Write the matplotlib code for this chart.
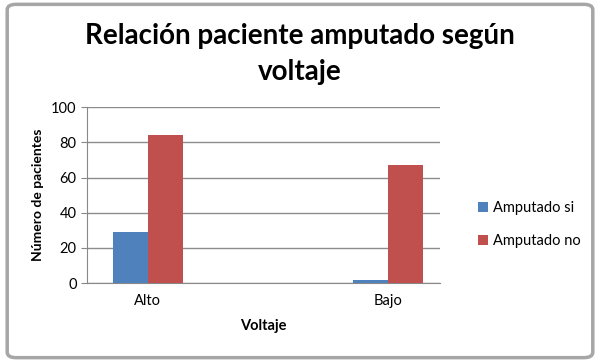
import matplotlib
matplotlib.use("Agg")
import matplotlib.pyplot as plt
from matplotlib.patches import FancyBboxPatch
import numpy as np

categories = ["Alto", "Bajo"]
amputado_si = [29, 2]
amputado_no = [84, 67]
series_names = ["Amputado si", "Amputado no"]
yticks = [0, 20, 40, 60, 80, 100]

plt.rcParams['font.family'] = ['Lato', 'DejaVu Sans']

fig = plt.figure(figsize=(6.0, 3.62), dpi=100)
fig.patch.set_facecolor("white")
border = FancyBboxPatch((0.012, 0.012), 0.976, 0.976, boxstyle="round,pad=0,rounding_size=0.015",
                        transform=fig.transFigure, facecolor="white", edgecolor="#a6a6a6", lw=2.5,
                        zorder=-10)
fig.patches.append(border)

ax = fig.add_axes([0.145, 0.218, 0.588, 0.486])
ax.set_facecolor("none")
x = np.arange(len(categories))
w = 0.146
ax.bar(x - w/2, amputado_si, w, color="#4f81bd", label=series_names[0], zorder=3)
ax.bar(x + w/2, amputado_no, w, color="#c0504d", label=series_names[1], zorder=3)
ax.set_xlim(-0.254, 1.217)
ax.set_ylim(0, 100)
ax.set_yticks(yticks)
ax.set_xticks(x)
ax.set_xticklabels(categories, fontsize=10.5)
ax.tick_params(axis='y', labelsize=10.5, length=4, color="#888888")
ax.tick_params(axis='x', length=0, pad=8)
ax.grid(axis='y', color="#8c8c8c", lw=1, zorder=0)
for s in ["top", "right"]:
    ax.spines[s].set_visible(False)
ax.spines["left"].set_color("#888888")
ax.spines["bottom"].set_color("#888888")
ax.set_ylabel("Número de pacientes", fontsize=10, fontweight="bold", labelpad=5)
ax.set_xlabel("Voltaje", fontsize=10.5, fontweight="bold", labelpad=8)

fig.text(0.5, 0.90, "Relación paciente amputado según", ha="center", va="center",
         fontsize=20, fontweight="bold")
fig.text(0.5, 0.80, "voltaje", ha="center", va="center", fontsize=20, fontweight="bold")

fig.legend(loc="center left", bbox_to_anchor=(0.775, 0.38), frameon=False, fontsize=10.5,
           handlelength=0.7, handleheight=0.7, handletextpad=0.3, labelspacing=1.3)

fig.savefig("out.png", dpi=100)
